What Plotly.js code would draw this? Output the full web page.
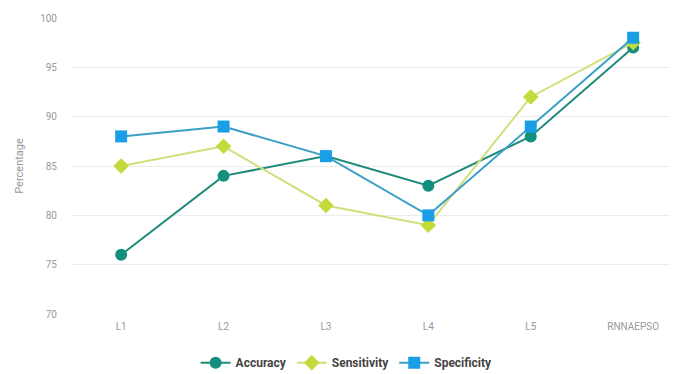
<!DOCTYPE html>
<html><head><meta charset="utf-8">
<script src="https://cdn.plot.ly/plotly-3.0.1.min.js"></script>
<style>html,body{margin:0;padding:0;background:#fff}#c{width:673px;height:374px}</style>
</head><body><div id="c"></div>
<script>
const categories = ["L1","L2","L3","L4","L5","RNNAEPSO"];
const accuracy = [76, 84, 86, 83, 88, 97];
const sensitivity = [85, 87, 81, 79, 92, 97.5];
const specificity = [88, 89, 86, 80, 89, 98];
const yTicks = [70, 75, 80, 85, 90, 95, 100];

const traces = [
  {x: categories, y: accuracy, name: "Accuracy", type: "scatter", mode: "lines+markers",
   line: {color: "#1f8a7a", width: 2}, marker: {symbol: "circle", size: 12, color: "#138f7b"}},
  {x: categories, y: sensitivity, name: "Sensitivity", type: "scatter", mode: "lines+markers",
   line: {color: "#cfe07a", width: 2}, marker: {symbol: "diamond", size: 12, color: "#c4da3a"}},
  {x: categories, y: specificity, name: "Specificity", type: "scatter", mode: "lines+markers",
   line: {color: "#3b9fc6", width: 2}, marker: {symbol: "square", size: 12, color: "#1a9fe6"}}
];

const layout = {
  width: 673, height: 374,
  margin: {l: 72, r: 3, t: 18, b: 60},
  paper_bgcolor: "#fff", plot_bgcolor: "#fff",
  font: {family: "Roboto, sans-serif", size: 10, color: "#999"},
  showlegend: true,
  legend: {orientation: "h", x: 0.515, xref: "container", xanchor: "center",
           y: 0.03, yref: "container", yanchor: "middle",
           font: {size: 12, color: "#444", weight: "bold"}, itemwidth: 30, tracegroupgap: 0},
  xaxis: {type: "category", range: [-0.48, 5.36], showgrid: false, zeroline: false,
          showline: false, ticks: "", ticklabelstandoff: 5, tickfont: {size: 10, color: "#999"}},
  yaxis: {range: [70, 100], tickvals: yTicks, showgrid: true, gridcolor: "#ececec", gridwidth: 1,
          zeroline: false, showline: false, ticklabelstandoff: 14,
          tickfont: {size: 10, color: "#999"},
          title: {text: "Percentage", font: {size: 11, color: "#999"}, standoff: 14}}
};
Plotly.newPlot("c", traces, layout, {displayModeBar: false, staticPlot: true});
</script></body></html>
